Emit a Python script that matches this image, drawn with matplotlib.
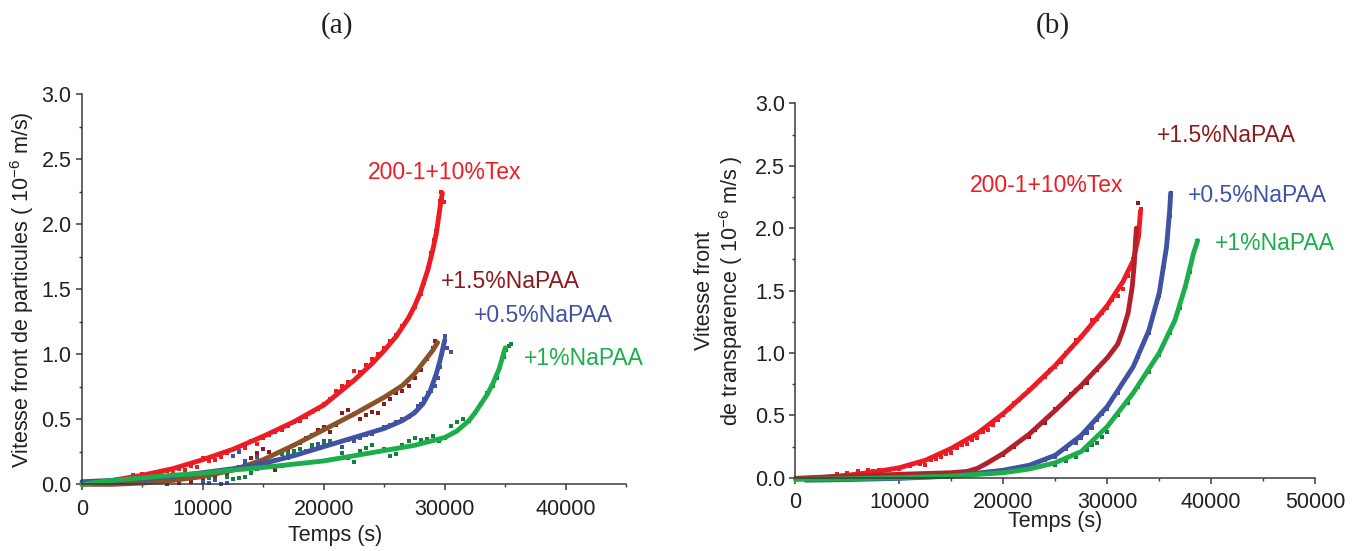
import numpy as np
import matplotlib
matplotlib.use("Agg")
import matplotlib.pyplot as plt
from matplotlib.ticker import MultipleLocator, FormatStrFormatter

plt.rcParams['font.family'] = ['Liberation Sans', 'DejaVu Sans']
plt.rcParams['mathtext.fontset'] = 'custom'
plt.rcParams['mathtext.rm'] = 'Liberation Sans'
plt.rcParams['mathtext.it'] = 'Liberation Sans:italic'

RED = '#ED1C24'
DARKRED = '#8B1A1A'
BROWN = '#8A5229'
BLUE = '#4152A5'
GREEN = '#1DAE4B'
DKGREEN = '#11823C'
FIREBRICK = '#B4202A'
INK = '#231F20'

# ---- panel (a): particle front velocity ----
a_red_x = [4200, 4600, 5000, 5500, 6000, 6500, 7000, 7500, 8000, 8500, 9000, 9500, 10000, 10500,
           11000, 11500, 12000, 12500, 13000, 13500, 14000, 14500, 15000, 15500, 16000, 16500,
           17000, 17500, 18000, 18500, 19000, 19500, 20000, 20500, 21000, 21500, 22000, 22500,
           23000, 23500, 24000, 24500, 25000, 25500, 26000, 26500, 27000, 27500, 28000, 28300,
           28600, 28900, 29100, 29300, 29500, 29600, 29700, 29800, 29900]
a_red_y = [0.07, 0.05, 0.08, 0.06, 0.09, 0.07, 0.10, 0.09, 0.12, 0.11, 0.14, 0.13, 0.20, 0.18,
           0.19, 0.21, 0.24, 0.22, 0.26, 0.28, 0.33, 0.31, 0.36, 0.38, 0.40, 0.42,
           0.45, 0.48, 0.49, 0.52, 0.56, 0.58, 0.62, 0.66, 0.72, 0.76, 0.79, 0.87,
           0.86, 0.92, 0.96, 1.00, 1.05, 1.10, 1.15, 1.22, 1.29, 1.36, 1.46, 1.55,
           1.66, 1.78, 1.88, 1.95, 2.08, 2.18, 2.25, 2.20, 2.17]
a_red_fit_x = [0, 2500, 5000, 7500, 10000, 12500, 15000, 17500, 20000, 22500, 24000, 25000, 26000,
               27000, 27500, 28000, 28600, 29000, 29300, 29500, 29700, 29800]
a_red_fit_y = [0.0, 0.03, 0.07, 0.12, 0.19, 0.27, 0.37, 0.48, 0.61, 0.80, 0.93, 1.03, 1.14,
               1.28, 1.37, 1.48, 1.65, 1.80, 1.93, 2.06, 2.19, 2.24]

a_dr_x = [7000, 8000, 9000, 10000, 11000, 12000, 12500, 13000, 13500, 14000, 14500, 15000, 15500,
          16000, 16500, 17000, 17500, 18000, 18500, 19000, 19500, 20000, 20500, 21000, 21500,
          22000, 22500, 23000, 23500, 24000, 24500, 25000, 25500, 26000, 26500, 27000, 27500,
          28000, 28500, 29000, 29200]
a_dr_y = [0.00, 0.01, 0.02, 0.04, 0.06, 0.09, 0.12, 0.13, 0.16, 0.20, 0.24, 0.27, 0.25,
          0.11, 0.14, 0.27, 0.30, 0.32, 0.36, 0.38, 0.42, 0.44, 0.40, 0.46, 0.55,
          0.57, 0.54, 0.50, 0.53, 0.56, 0.55, 0.62, 0.66, 0.70, 0.72, 0.76, 0.82,
          0.88, 0.96, 1.05, 1.10]
a_brown_fit_x = [0, 2500, 5000, 7500, 10000, 12500, 15000, 17500, 20000, 22500, 25000, 26500,
                 27500, 28500, 29000, 29400]
a_brown_fit_y = [0.0, 0.0, 0.01, 0.03, 0.06, 0.11, 0.19, 0.30, 0.42, 0.54, 0.67, 0.76,
                 0.85, 0.97, 1.03, 1.09]

a_blue_x = [4000, 5000, 6000, 7000, 8000, 9000, 10000, 10500, 11000, 11500, 12000, 12500, 13000,
            13500, 14000, 14500, 15000, 15500, 16000, 17000, 17500, 18000, 18500, 19000, 19500,
            20000, 20500, 21000, 21500, 22000, 22500, 23000, 23500, 24000, 24500, 25000, 25500,
            26000, 26500, 27000, 27500, 27800, 28000, 28300, 28600, 28900, 29200, 29400, 29600,
            29800, 29900, 30000, 30200, 30500]
a_blue_y = [0.03, 0.04, 0.02, 0.05, 0.03, 0.06, 0.02, 0.01, 0.03, 0.00, 0.01, 0.22, 0.25,
            0.18, 0.15, 0.21, 0.17, 0.14, 0.19, 0.20, 0.24, 0.23, 0.26, 0.28, 0.31,
            0.33, 0.30, 0.32, 0.29, 0.34, 0.33, 0.36, 0.38, 0.39, 0.42, 0.44, 0.46,
            0.48, 0.50, 0.52, 0.56, 0.60, 0.62, 0.66, 0.70, 0.72, 0.76, 0.82, 0.90,
            1.00, 1.08, 1.14, 1.05, 1.02]
a_blue_fit_x = [0, 2500, 5000, 7500, 10000, 12500, 15000, 17500, 20000, 22500, 25000, 26500,
                27500, 28200, 28800, 29300, 29600, 29800, 30000]
a_blue_fit_y = [0.02, 0.03, 0.04, 0.06, 0.09, 0.12, 0.16, 0.22, 0.29, 0.36, 0.43, 0.49,
                0.55, 0.62, 0.72, 0.85, 0.95, 1.03, 1.11]

a_green_x = [9000, 10000, 10500, 11000, 12000, 12500, 13000, 13500, 14000, 14500, 15000, 15500,
             16000, 16500, 17000, 17500, 18000, 18500, 19000, 19500, 20000, 20500, 21000, 21500,
             22000, 22500, 23000, 23500, 24000, 24500, 25000, 25500, 26000, 26500, 27000, 27500,
             28000, 28500, 29000, 29500, 30000, 30500, 31000, 31500, 32000, 32500, 33000, 33500,
             34000, 34300, 34600, 34900, 35100, 35300, 35500]
a_green_y = [0.06, 0.07, 0.05, 0.08, 0.06, 0.04, 0.05, 0.06, 0.09, 0.12, 0.15, 0.17,
             0.19, 0.23, 0.24, 0.26, 0.27, 0.25, 0.30, 0.28, 0.31, 0.33, 0.32, 0.24,
             0.20, 0.17, 0.26, 0.28, 0.30, 0.25, 0.27, 0.22, 0.23, 0.30, 0.33, 0.36,
             0.34, 0.35, 0.37, 0.33, 0.36, 0.45, 0.48, 0.50, 0.49, 0.55, 0.62, 0.70,
             0.76, 0.82, 0.90, 0.98, 1.03, 1.06, 1.08]
a_green_fit_x = [0, 2500, 5000, 7500, 10000, 12500, 15000, 17500, 20000, 22500, 25000, 27500,
                 30000, 31000, 32000, 32500, 33500, 34000, 34500, 35000]
a_green_fit_y = [0.0, 0.03, 0.05, 0.07, 0.085, 0.11, 0.13, 0.155, 0.18, 0.22, 0.26, 0.30,
                 0.36, 0.41, 0.49, 0.55, 0.69, 0.78, 0.89, 1.05]

# ---- panel (b): transparency front velocity ----
b_red_x = [4000, 5000, 6000, 7000, 7500, 8000, 9000, 10000, 11000, 12000, 12500, 13000, 13500,
           14000, 14500, 15000, 15500, 16000, 16500, 17000, 17500, 18000, 18500, 19000, 19500,
           20000, 20500, 21000, 21500, 22000, 22500, 23000, 23500, 24000, 24500, 25000, 25500,
           26000, 26500, 27000, 27500, 28000, 28500, 29000, 29500, 30000, 30500, 31000, 31500,
           32000, 32500, 32800, 33000, 33100, 33200]
b_red_y = [0.03, 0.04, 0.05, 0.06, 0.05, 0.06, 0.06, 0.07, 0.09, 0.11, 0.10, 0.14, 0.15,
           0.17, 0.19, 0.20, 0.24, 0.26, 0.27, 0.30, 0.32, 0.37, 0.38, 0.42, 0.46,
           0.50, 0.55, 0.60, 0.62, 0.66, 0.70, 0.74, 0.78, 0.81, 0.86, 0.89, 0.93,
           1.00, 1.04, 1.10, 1.13, 1.18, 1.26, 1.27, 1.32, 1.36, 1.42, 1.46, 1.51,
           1.62, 1.75, 1.90, 2.00, 2.10, 2.15]
b_red_fit_x = [0, 2500, 5000, 7500, 10000, 12500, 15000, 17500, 20000, 22500, 25000, 27500,
               30000, 31500, 32500, 33000, 33200]
b_red_fit_y = [-0.01, 0.0, 0.02, 0.045, 0.08, 0.14, 0.235, 0.355, 0.515, 0.70, 0.90, 1.13,
               1.38, 1.57, 1.74, 1.93, 2.14]

b_dr_x = [20000, 21000, 22500, 23000, 24000, 25000, 26000, 26500, 27000, 27500, 28000, 29000,
          30000, 33000]
b_dr_y = [0.18, 0.25, 0.33, 0.38, 0.44, 0.55, 0.62, 0.67, 0.70, 0.73, 0.76, 0.86, 0.96, 2.20]
b_dr_fit_x = [0, 5000, 10000, 15000, 16500, 17500, 18500, 20000, 22500, 25000, 27500, 30000,
              31000, 31500, 32000, 32400, 32600, 32700, 32800]
b_dr_fit_y = [-0.005, 0.013, 0.027, 0.04, 0.05, 0.075, 0.12, 0.195, 0.35, 0.54, 0.74, 0.96,
              1.07, 1.18, 1.32, 1.53, 1.72, 1.88, 2.0]

b_blue_x = [20000, 22000, 24000, 25000, 26000, 27000, 27500, 28000, 28500, 29000, 29500, 30000,
            31000, 32000, 33000, 34000, 35000, 35500, 36000, 36100]
b_blue_y = [0.06, 0.08, 0.14, 0.17, 0.23, 0.28, 0.32, 0.36, 0.40, 0.46, 0.51, 0.55,
            0.68, 0.82, 0.97, 1.16, 1.46, 1.70, 2.10, 2.28]
b_blue_fit_x = [1000, 5000, 10000, 15000, 20000, 22500, 25000, 27500, 30000, 32500, 34000, 35000,
                35700, 36000, 36100]
b_blue_fit_y = [-0.02, -0.015, -0.005, 0.013, 0.06, 0.10, 0.18, 0.34, 0.57, 0.89, 1.18, 1.48,
                1.85, 2.14, 2.28]

b_green_x = [25000, 26000, 27000, 28000, 28500, 29000, 29500, 30000, 31000, 32000, 33000, 34000,
             35000, 36000, 37000, 38000, 38600]
b_green_y = [0.10, 0.13, 0.17, 0.22, 0.26, 0.28, 0.33, 0.37, 0.50, 0.60, 0.73, 0.85,
             0.98, 1.16, 1.36, 1.65, 1.90]
b_green_fit_x = [0, 5000, 10000, 15000, 20000, 22500, 25000, 27500, 30000, 32500, 35000, 36500,
                 37500, 38300, 38700]
b_green_fit_y = [-0.013, -0.008, 0.0, 0.013, 0.04, 0.07, 0.12, 0.21, 0.41, 0.68, 1.0, 1.26,
                 1.53, 1.80, 1.90]

labels_a = ['200-1+10%Tex', '+1.5%NaPAA', '+0.5%NaPAA', '+1%NaPAA']
labels_b = ['200-1+10%Tex', '+1.5%NaPAA', '+0.5%NaPAA', '+1%NaPAA']


def style_axes(ax, xmax):
    ax.set_xlim(0, xmax)
    ax.set_ylim(0, 3.0)
    for s in ['top', 'right']:
        ax.spines[s].set_visible(False)
    for s in ['left', 'bottom']:
        ax.spines[s].set_linewidth(1.1)
        ax.spines[s].set_color('#3a3a3a')
    ax.xaxis.set_major_locator(MultipleLocator(10000))
    ax.xaxis.set_minor_locator(MultipleLocator(5000))
    ax.yaxis.set_major_locator(MultipleLocator(0.5))
    ax.yaxis.set_minor_locator(MultipleLocator(0.25))
    ax.yaxis.set_major_formatter(FormatStrFormatter('%.1f'))
    ax.tick_params(which='major', direction='out', length=4.5, width=1.1, color='#3a3a3a',
                   labelsize=15.5, labelcolor=INK)
    ax.tick_params(which='minor', direction='out', length=2.5, width=1.0, color='#3a3a3a')
    ax.tick_params(axis='x', pad=6)
    ax.tick_params(axis='y', pad=3)


fig = plt.figure(figsize=(13.64, 5.51), dpi=100)
ax1 = fig.add_axes([0.0601, 0.121, 0.399, 0.708])
ax2 = fig.add_axes([0.5832, 0.133, 0.381, 0.6795])

ms = 3.0
# panel a
ax1.plot(a_red_x, a_red_y, 's', ms=ms, color=RED, mew=0, clip_on=False)
ax1.plot(a_dr_x, a_dr_y, 's', ms=ms, color=DARKRED, mew=0, clip_on=False)
ax1.plot(a_blue_x, a_blue_y, 's', ms=ms, color=BLUE, mew=0, clip_on=False)
ax1.plot(a_green_x, a_green_y, 's', ms=ms, color=DKGREEN, mew=0, clip_on=False)
ax1.plot(a_red_fit_x, a_red_fit_y, '-', lw=3.5, color=RED, solid_capstyle='round', clip_on=False)
ax1.plot(a_brown_fit_x, a_brown_fit_y, '-', lw=3.5, color=BROWN, solid_capstyle='round', clip_on=False)
ax1.plot(a_blue_fit_x, a_blue_fit_y, '-', lw=3.5, color=BLUE, solid_capstyle='round', clip_on=False)
ax1.plot(a_green_fit_x, a_green_fit_y, '-', lw=3.5, color=GREEN, solid_capstyle='round', clip_on=False)
style_axes(ax1, 45000)
ax1.set_xlabel('Temps (s)', fontsize=15.5, color=INK)
ax1.xaxis.set_label_coords(0.465, -0.103)
ax1.set_ylabel('Vitesse front de particules ( 10$^{-6}$ m/s)', fontsize=15.5, color=INK)
ax1.yaxis.set_label_coords(-0.084, 0.5)

ax1.text(23610, 2.40, labels_a[0], color=RED, fontsize=16.5, va='center', ha='left')
ax1.text(29660, 1.56, labels_a[1], color=DARKRED, fontsize=16.5, va='center', ha='left')
ax1.text(32370, 1.30, labels_a[2], color=BLUE, fontsize=16.5, va='center', ha='left')
ax1.text(36540, 0.97, labels_a[3], color=GREEN, fontsize=16.5, va='center', ha='left')

# panel b
ax2.plot(b_red_x, b_red_y, 's', ms=ms, color=RED, mew=0, clip_on=False)
ax2.plot(b_dr_x, b_dr_y, 's', ms=ms, color=DARKRED, mew=0, clip_on=False)
ax2.plot(b_blue_x, b_blue_y, 's', ms=ms, color=BLUE, mew=0, clip_on=False)
ax2.plot(b_green_x, b_green_y, 's', ms=ms, color=DKGREEN, mew=0, clip_on=False)
ax2.plot(b_red_fit_x, b_red_fit_y, '-', lw=3.5, color=RED, solid_capstyle='round', clip_on=False)
ax2.plot(b_dr_fit_x, b_dr_fit_y, '-', lw=3.5, color=FIREBRICK, solid_capstyle='round', clip_on=False)
ax2.plot(b_blue_fit_x, b_blue_fit_y, '-', lw=3.5, color=BLUE, solid_capstyle='round', clip_on=False)
ax2.plot(b_green_fit_x, b_green_fit_y, '-', lw=3.5, color=GREEN, solid_capstyle='round', clip_on=False)
style_axes(ax2, 50000)
ax2.set_xlabel('Temps (s)', fontsize=15.5, color=INK)
ax2.xaxis.set_label_coords(0.5, -0.09)
ax2.set_ylabel('Vitesse front\nde transparence ( 10$^{-6}$ m/s )', fontsize=15.5, color=INK,
               linespacing=1.1)
ax2.yaxis.set_label_coords(-0.098, 0.5)

ax2.text(34760, 2.745, labels_b[1], color=DARKRED, fontsize=16.5, va='center', ha='left')
ax2.text(16780, 2.345, labels_b[0], color=RED, fontsize=16.5, va='center', ha='left')
ax2.text(37770, 2.264, labels_b[2], color=BLUE, fontsize=16.5, va='center', ha='left')
ax2.text(40340, 1.88, labels_b[3], color=GREEN, fontsize=16.5, va='center', ha='left')

fig.text(337 / 1364, 1 - 26 / 551, '(a)', family='Liberation Serif', fontsize=21,
         ha='center', va='center', color=INK)
fig.text(1053 / 1364, 1 - 26 / 551, '(b)', family='Liberation Serif', fontsize=21,
         ha='center', va='center', color=INK)

fig.savefig('out.png', dpi=100)
